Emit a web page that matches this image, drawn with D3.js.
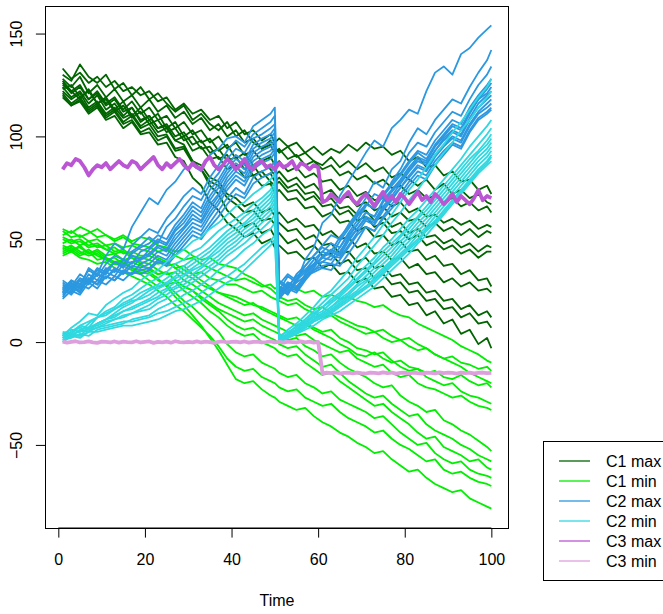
<!DOCTYPE html>
<html>
<head>
<meta charset="utf-8">
<script src="https://cdn.jsdelivr.net/npm/d3@7"></script>
<style>
  body { margin: 0; background: #fff; }
  text { font-family: "Liberation Sans", Arial, Helvetica, sans-serif; }
</style>
</head>
<body>
<div id="chart"></div>
<script>
// times at which the simulated paths were recorded (50 -> 51 is the reset)
var pathTime = [1,3,5,7,9,11,13,15,17,19,21,23,25,27,29,31,33,35,37,39,41,43,45,47,49,50,
                51,53,55,57,59,61,63,65,67,69,71,73,75,77,79,81,83,85,87,89,91,93,95,97,99,100];
// C3 is recorded every step
var stepTime = d3.range(1, 101);

var xTicks = [0, 20, 40, 60, 80, 100];
var yTicks = [-50, 0, 50, 100, 150];

var c1max = [
  [133,128,131,126,129,124,127,122,124,120,122,117,119,113,116,111,113,108,110,104,107,101,103,98,101,97,99,95,97,92,95,91,94,92,96,93,97,94,95,91,93,88,90,85,86,81,83,78,79,74,76,72],
  [130,127,135,129,126,130,123,126,120,124,118,121,116,112,115,108,111,106,103,107,100,103,97,94,98,95,92,95,90,92,88,86,90,85,88,84,87,83,85,80,82,79,76,79,74,77,72,74,70,72,68,67],
  [128,124,129,121,125,119,123,117,120,114,118,112,115,109,112,106,109,103,106,100,103,97,99,94,96,92,94,89,91,86,88,84,86,81,83,79,81,77,79,75,76,72,74,70,71,68,70,66,68,64,66,63],
  [126,121,124,118,122,116,119,113,117,111,114,108,110,104,107,101,103,97,100,94,97,91,93,88,90,86,88,83,85,80,82,78,79,74,76,71,73,69,70,66,68,63,65,61,62,58,60,57,59,55,57,56],
  [125,122,118,123,116,119,113,117,110,114,108,111,104,107,100,103,97,99,93,96,89,92,86,88,84,81,83,78,80,75,77,72,74,69,71,66,68,64,66,61,63,59,60,56,58,54,56,52,55,51,54,53],
  [124,119,122,116,120,113,116,110,114,107,110,104,106,100,102,96,98,92,94,88,90,84,86,80,82,78,80,75,77,72,73,68,70,65,66,62,64,59,61,56,58,53,55,51,52,48,50,46,48,44,47,46],
  [123,125,119,122,116,118,112,115,109,112,106,108,102,104,98,100,94,95,89,91,85,87,81,83,78,76,78,73,74,69,71,66,67,62,64,59,61,56,58,53,54,50,52,47,49,45,47,43,45,41,44,44],
  [122,118,121,114,117,111,114,109,111,105,108,102,104,98,100,93,95,89,90,84,86,80,81,76,77,72,74,69,70,65,66,61,63,58,59,54,56,51,52,47,49,44,45,40,42,37,38,33,35,30,31,27],
  [121,116,119,113,116,110,113,107,110,104,106,100,101,94,95,88,86,80,78,72,70,66,68,63,65,61,63,58,60,56,57,52,54,50,51,46,48,43,44,40,41,36,38,33,34,29,31,27,29,25,26,24],
  [120,115,118,112,115,109,112,106,108,102,104,98,100,93,94,87,84,78,76,70,67,63,64,59,60,57,58,54,55,50,52,47,48,43,44,39,41,36,37,32,33,28,29,24,25,20,21,16,18,13,15,12],
  [127,122,125,118,121,115,118,112,114,108,110,104,105,98,96,88,84,76,72,64,60,56,58,53,55,51,53,48,50,45,47,42,43,38,40,35,36,31,33,28,29,24,25,20,21,16,17,12,14,9,10,7],
  [119,115,117,111,114,108,110,104,107,101,102,96,97,90,88,80,76,68,64,58,55,51,53,48,50,46,47,43,44,40,41,36,38,33,34,29,31,26,27,22,23,18,19,13,15,9,11,4,6,-1,2,-3]
];

var c1min = [
  [55,53,56,54,51,52,49,51,48,47,46,44,45,42,40,41,38,36,34,32,30,31,29,27,28,26,27,25,26,24,25,22,23,21,22,20,19,17,18,15,13,12,9,7,5,3,1,-2,-4,-6,-9,-10],
  [52,54,51,53,55,52,50,52,49,51,50,47,46,44,45,42,40,41,38,37,36,33,31,28,26,24,22,20,21,18,16,17,14,12,10,8,7,5,6,3,1,2,-1,-3,-6,-8,-10,-12,-15,-17,-19,-20],
  [50,48,49,46,47,45,46,43,44,42,42,40,37,38,35,33,34,31,30,28,28,26,24,25,22,21,20,18,19,16,14,12,13,10,8,6,4,5,2,0,1,-2,-4,-3,-6,-8,-7,-10,-11,-13,-12,-14],
  [48,50,47,49,46,47,44,45,42,41,40,38,39,36,33,31,28,26,24,23,22,20,18,17,15,14,13,11,12,9,7,5,6,2,0,-3,-4,-6,-5,-9,-12,-14,-13,-17,-19,-21,-20,-24,-26,-27,-29,-30],
  [54,51,52,49,50,47,48,46,47,45,44,41,39,36,37,33,30,27,24,22,20,18,19,16,14,13,12,10,8,9,6,4,2,-1,-3,-6,-7,-5,-8,-10,-9,-12,-13,-15,-14,-17,-18,-16,-19,-21,-20,-22],
  [46,44,47,43,45,42,43,40,41,39,38,35,33,34,30,28,25,22,19,17,15,13,14,11,9,8,7,5,3,4,1,-1,-3,-5,-4,-8,-10,-12,-11,-15,-17,-16,-20,-22,-23,-25,-27,-26,-29,-31,-32,-33],
  [44,46,43,45,42,40,41,38,39,37,36,33,34,30,27,25,22,19,16,14,12,10,11,8,6,5,4,1,2,-2,-4,-7,-6,-10,-13,-15,-17,-20,-22,-21,-26,-29,-31,-34,-33,-38,-40,-43,-45,-48,-51,-53],
  [51,49,50,47,48,45,43,44,41,38,35,33,34,30,27,25,21,18,15,11,8,6,7,4,2,1,-1,-3,-2,-6,-9,-12,-11,-15,-19,-22,-25,-27,-26,-30,-33,-36,-35,-40,-43,-45,-47,-50,-52,-55,-57,-58],
  [43,45,42,44,40,41,38,37,35,34,33,30,28,29,25,22,19,15,12,8,5,3,4,0,-2,-3,-5,-7,-6,-10,-13,-16,-15,-19,-22,-25,-28,-31,-30,-34,-37,-40,-44,-47,-46,-51,-53,-55,-58,-57,-61,-62],
  [47,45,46,43,44,41,39,40,36,33,30,27,28,24,20,17,13,9,5,-1,-5,-7,-6,-10,-12,-13,-15,-17,-16,-20,-22,-25,-24,-28,-30,-32,-34,-37,-36,-40,-44,-47,-50,-49,-54,-57,-59,-58,-62,-64,-65,-66],
  [42,44,41,40,38,39,36,34,32,30,28,25,22,18,15,11,7,3,-2,-8,-12,-14,-13,-17,-19,-20,-22,-24,-23,-27,-29,-31,-30,-34,-37,-39,-41,-44,-43,-47,-50,-52,-55,-58,-57,-62,-64,-63,-66,-68,-69,-70],
  [45,47,44,42,43,40,38,39,36,35,34,31,27,22,18,13,8,2,-4,-11,-18,-20,-19,-23,-26,-27,-29,-31,-33,-32,-36,-39,-41,-44,-46,-49,-51,-54,-53,-57,-60,-63,-62,-66,-69,-71,-73,-72,-76,-78,-80,-81]
];

var c2max = [
  [24,30,27,36,33,42,48,45,56,63,70,67,74,78,84,86,83,91,94,99,100,97,105,108,111,114,25,32,29,40,46,58,62,71,78,85,92,98,95,104,108,113,111,122,131,134,130,140,143,148,152,154],
  [26,30,28,35,32,38,42,40,47,51,55,53,60,65,71,75,72,80,86,93,98,95,101,104,107,110,28,33,30,37,42,47,52,50,57,63,70,78,75,84,88,97,104,101,108,113,118,116,124,131,137,142],
  [22,27,24,31,28,35,39,36,44,47,51,48,56,60,66,71,69,77,82,89,94,92,99,101,104,106,24,29,26,33,38,44,48,46,53,59,66,72,70,78,84,92,97,95,102,107,112,110,118,125,130,134],
  [28,25,31,29,35,33,39,37,43,46,48,52,50,57,62,68,65,74,79,86,91,88,96,99,101,104,27,24,31,35,40,44,42,49,55,61,67,65,72,77,82,88,93,91,98,103,108,106,114,120,125,128],
  [25,29,26,33,30,36,34,40,38,44,46,50,48,55,60,66,63,71,77,84,89,86,94,97,99,102,22,27,25,31,36,42,45,43,51,57,63,61,69,74,79,85,90,88,95,100,105,103,111,118,123,126],
  [30,27,33,30,36,34,39,37,42,40,45,49,47,54,58,64,61,69,75,82,87,84,92,95,97,100,29,26,33,37,42,46,44,51,56,62,67,65,71,76,81,87,92,89,96,101,106,104,112,118,121,124],
  [23,27,25,31,28,34,32,38,36,41,43,47,45,52,56,62,59,67,72,80,85,82,90,93,95,98,23,28,26,32,37,41,44,42,49,55,61,59,66,71,77,83,88,86,93,99,103,101,109,116,120,122],
  [27,24,30,28,33,31,36,34,39,40,42,46,44,50,55,60,58,65,71,78,83,80,88,91,93,96,26,23,30,34,38,41,40,46,52,57,63,61,68,73,78,84,89,87,93,98,102,100,108,114,118,120],
  [21,25,23,29,26,32,30,35,33,38,40,44,42,48,53,58,56,63,69,76,81,78,86,89,91,94,21,26,24,30,35,39,42,41,47,53,59,57,64,69,75,81,86,84,91,96,100,98,106,112,116,118],
  [29,26,31,29,33,31,35,33,37,36,38,42,40,46,51,56,54,61,67,74,79,76,84,87,89,92,30,27,32,35,38,39,38,44,50,55,60,58,65,70,75,80,85,83,90,95,99,97,105,111,114,116],
  [24,28,26,30,28,32,30,34,33,35,36,40,38,44,49,54,52,58,64,70,75,72,80,83,85,88,24,29,27,32,35,37,38,37,43,49,56,54,61,67,72,78,83,81,88,93,97,95,103,109,112,114],
  [26,23,28,26,30,28,32,30,34,33,35,39,37,42,47,52,50,56,61,67,72,70,77,80,82,85,27,24,29,32,34,36,35,40,46,52,56,54,60,65,70,76,81,79,86,91,96,94,102,108,111,113]
];

var c2min = [
  [3,7,10,14,13,18,21,24,26,30,33,35,39,42,45,49,51,55,58,62,66,68,72,75,79,82,2,6,9,13,17,22,25,30,35,41,46,51,57,62,68,74,79,85,91,96,102,107,113,119,124,128],
  [2,5,8,7,12,15,17,21,23,26,29,31,34,38,40,44,46,50,54,57,60,63,67,70,74,78,1,4,8,11,15,19,23,27,31,37,42,47,52,58,63,69,74,80,86,92,97,103,108,114,119,122],
  [4,6,5,9,12,14,16,19,21,24,26,28,31,34,37,40,43,46,50,54,57,61,64,68,72,76,0,3,6,10,13,17,21,24,28,33,37,41,46,50,55,60,64,69,74,79,84,89,95,100,105,108],
  [1,3,6,5,9,11,14,17,19,22,25,27,29,32,35,38,41,44,48,52,55,58,62,66,70,74,3,5,7,11,14,17,20,23,27,31,35,39,44,48,52,57,61,66,71,76,81,86,91,96,101,104],
  [5,4,8,10,12,13,16,18,20,21,23,26,28,31,33,36,39,42,46,50,53,57,60,64,68,72,1,4,6,9,13,15,19,22,26,30,34,38,42,46,51,55,60,64,69,74,79,84,89,93,98,101],
  [2,4,3,7,9,11,12,15,17,19,21,24,26,29,32,35,37,41,44,48,51,55,58,62,66,70,0,2,5,8,11,14,17,21,24,28,32,36,40,44,49,53,58,62,67,72,77,82,87,92,96,99],
  [3,5,7,6,9,11,13,15,16,18,20,22,25,27,30,33,36,39,42,46,49,53,56,60,64,68,2,4,6,9,12,14,17,20,23,27,30,34,38,42,47,51,56,60,65,70,75,80,85,90,94,97],
  [0,3,2,5,7,9,11,12,14,16,18,21,23,26,28,31,34,37,40,44,47,51,54,58,62,66,1,3,5,8,11,13,16,19,22,25,29,32,36,40,45,49,54,58,63,68,73,78,83,88,92,95],
  [4,3,6,7,8,10,11,13,14,15,16,19,21,24,26,29,32,35,38,42,45,48,52,55,59,62,0,2,4,7,10,12,15,18,21,24,27,31,35,39,43,47,52,56,61,66,71,76,81,86,90,93],
  [1,2,4,3,6,7,8,9,11,12,13,16,18,20,23,25,28,31,35,38,41,45,48,52,55,58,2,3,6,8,11,13,15,18,21,24,27,30,34,38,42,46,50,55,59,64,69,74,79,84,88,91],
  [3,4,5,6,7,8,9,10,10,11,12,14,15,17,19,21,24,27,30,32,35,38,42,46,49,52,1,3,5,7,10,12,14,17,20,23,26,29,33,37,41,45,49,54,58,63,68,73,78,83,87,90],
  [2,3,3,5,5,6,7,8,8,9,10,11,13,15,16,18,20,23,26,29,31,35,39,43,47,50,0,2,4,6,8,11,13,15,18,21,24,27,31,35,39,43,48,52,57,62,67,72,77,82,86,88]
];

var c3max = [
  84,87,86,89,88,85,81,84,86,85, 87,84,86,88,86,85,88,87,84,86,
  88,90,86,84,87,85,87,89,86,84, 87,85,84,88,90,86,84,86,89,87,
  84,86,89,85,84,87,88,85,86,84, 87,85,86,88,84,87,86,84,86,85,
  68,69,72,70,68,71,73,69,67,70, 72,69,66,70,73,69,71,68,72,70,
  67,70,73,69,71,68,72,70,67,69, 72,68,71,69,67,70,74,69,71,70
];

var c3min = [
  0.2,-0.3,0.1,0.4,-0.2,0,0.3,-0.1,-0.4,0.2, 0.1,-0.2,0.3,-0.3,0.2,0,-0.1,0.4,-0.2,0.1,
  0.3,-0.4,0.1,-0.1,0.2,-0.3,0.4,0,-0.2,0.1, -0.1,0.3,-0.2,0.2,0,-0.4,0.1,0.3,-0.2,0.1,
  0.2,-0.1,0.3,-0.3,0.1,0.2,-0.2,0,0.3,-0.1, 0.1,-0.3,0.2,0,-0.2,0.3,-0.1,0.2,-0.3,0.1,
  -15.2,-14.8,-15.1,-14.7,-15.3,-15,-14.9,-15.2,-14.8,-15.1, -15.3,-14.9,-15,-15.2,-14.7,-15.1,-14.8,-15.3,-15,-14.9,
  -15.2,-14.8,-15.1,-15.3,-14.9,-15,-15.2,-14.7,-15.1,-14.9, -15,-15.3,-14.8,-15.1,-14.9,-15.2,-15,-14.8,-15.1,-15
];

var groups = [
  {name: "C1 max", series: c1max,   time: pathTime, color: "#006400", width: 1.8},
  {name: "C1 min", series: c1min,   time: pathTime, color: "#00ee00", width: 1.8},
  {name: "C2 max", series: c2max,   time: pathTime, color: "#2b98e0", width: 1.8},
  {name: "C2 min", series: c2min,   time: pathTime, color: "#30d8e0", width: 1.8},
  {name: "C3 max", series: [c3max], time: stepTime, color: "#ba55d3", width: 3.8},
  {name: "C3 min", series: [c3min], time: stepTime, color: "#dda0dd", width: 3.8}
];

var W = 663, H = 614;
var box = {left: 45.5, right: 508.5, top: 6, bottom: 528};

var svg = d3.select("#chart").append("svg")
  .attr("width", W)
  .attr("height", H)
  .style("background", "#fff");

// R-style 4% padding on both axes
var tMin = d3.min(pathTime), tMax = d3.max(pathTime);
var tPad = (tMax - tMin) * 0.04;
var allVals = groups.flatMap(g => g.series.flat());
var vMin = d3.min(allVals), vMax = d3.max(allVals);
var vPad = (vMax - vMin) * 0.04;

var x = d3.scaleLinear().domain([tMin - tPad, tMax + tPad]).range([box.left, box.right]);
var y = d3.scaleLinear().domain([vMin - vPad, vMax + vPad]).range([box.bottom, box.top]);

var plot = svg.append("g");

groups.forEach(function(g) {
  var line = d3.line()
    .x(function(d, i) { return x(g.time[i]); })
    .y(function(d) { return y(d); });
  plot.selectAll(null)
    .data(g.series)
    .enter()
    .append("path")
    .attr("d", line)
    .attr("fill", "none")
    .attr("stroke", g.color)
    .attr("stroke-width", g.width)
    .attr("stroke-linejoin", "round");
});

// frame
svg.append("rect")
  .attr("x", box.left)
  .attr("y", box.top + 0.5)
  .attr("width", box.right - box.left)
  .attr("height", box.bottom - box.top)
  .attr("fill", "none")
  .attr("stroke", "#000")
  .attr("stroke-width", 1);

// x axis
var xAxis = svg.append("g")
  .attr("transform", "translate(0," + box.bottom + ")")
  .call(d3.axisBottom(x).tickValues(xTicks).tickSize(9.6).tickPadding(16.4).tickFormat(d3.format("d")));
xAxis.select(".domain").attr("d", "M" + x(0) + ",0H" + x(100)).attr("stroke", "#000");
xAxis.selectAll("line").attr("stroke", "#000");
xAxis.selectAll("text").attr("font-size", 16).attr("fill", "#000")
  .style("font-family", "'Liberation Sans', Arial, sans-serif");

// y axis, labels turned parallel to the axis
var yAxis = svg.append("g")
  .attr("transform", "translate(" + box.left + ",0)")
  .call(d3.axisLeft(y).tickValues(yTicks).tickSize(9.6).tickFormat(d3.format("d")));
yAxis.select(".domain").attr("d", "M0," + y(-50) + "V" + y(150)).attr("stroke", "#000");
yAxis.selectAll("line").attr("stroke", "#000");
yAxis.selectAll("text")
  .attr("x", null)
  .attr("dy", null)
  .attr("text-anchor", "middle")
  .attr("transform", "translate(-23.5,0) rotate(-90)")
  .attr("font-size", 16)
  .attr("fill", "#000")
  .style("font-family", "'Liberation Sans', Arial, sans-serif")
  .text(function(d) { return d < 0 ? "\u2212" + Math.abs(d) : d; });

svg.append("text")
  .attr("x", (box.left + box.right) / 2)
  .attr("y", 606)
  .attr("text-anchor", "middle")
  .attr("font-size", 16)
  .text("Time");

// legend
var legend = svg.append("g");
legend.append("rect")
  .attr("x", 543.5)
  .attr("y", 441.5)
  .attr("width", 200)
  .attr("height", 139)
  .attr("fill", "#fff")
  .attr("stroke", "#000")
  .attr("stroke-width", 1);

var item = legend.selectAll("g.item")
  .data(groups)
  .enter()
  .append("g")
  .attr("class", "item")
  .attr("transform", function(d, i) { return "translate(0," + (461 + i * 20) + ")"; });

item.append("line")
  .attr("x1", 559).attr("x2", 590)
  .attr("y1", 0).attr("y2", 0)
  .attr("stroke", function(d) { return d.color; })
  .attr("stroke-width", 1.3);

item.append("text")
  .attr("x", 606)
  .attr("dy", "0.36em")
  .attr("font-size", 16)
  .text(function(d) { return d.name; });
</script>
</body>
</html>
